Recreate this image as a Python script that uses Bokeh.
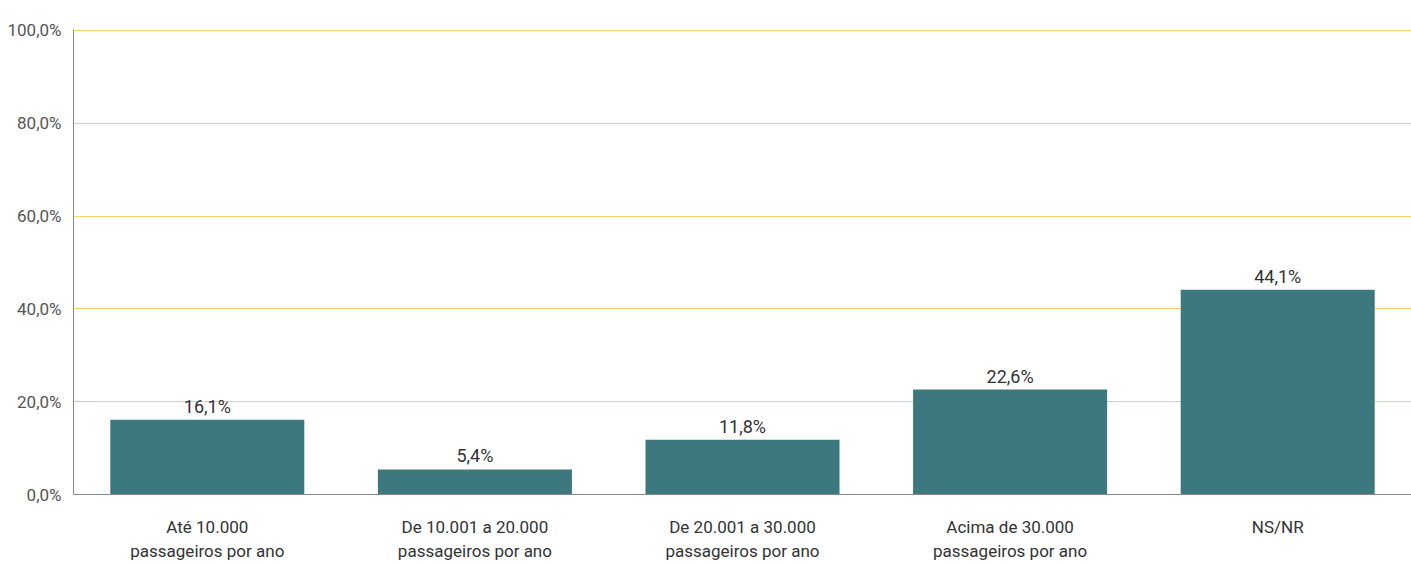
from bokeh.plotting import figure
from bokeh.models import ColumnDataSource, CustomJSTickFormatter, FixedTicker, Range1d, FactorRange
from bokeh.core.properties import value
from bokeh.embed import file_html
from bokeh.resources import INLINE

categories = ["Até 10.000\npassageiros por ano",
              "De 10.001 a 20.000\npassageiros por ano",
              "De 20.001 a 30.000\npassageiros por ano",
              "Acima de 30.000\npassageiros por ano",
              "NS/NR"]
values = [16.1, 5.4, 11.8, 22.6, 44.1]
value_labels = ["16,1%", "5,4%", "11,8%", "22,6%", "44,1%"]
y_ticks = [0, 20, 40, 60, 80, 100]

FONT = "Roboto"

src = ColumnDataSource(dict(cat=categories, val=values, lab=value_labels))

p = figure(x_range=FactorRange(*categories, range_padding=0), y_range=Range1d(0, 100.2),
           frame_width=1338, frame_height=465, output_backend="svg", toolbar_location=None,
           min_border_left=73, min_border_right=0, min_border_top=29, min_border_bottom=70)
p.outline_line_color = None
p.background_fill_color = "white"

p.vbar(x="cat", top="val", width=0.725, source=src, fill_color="#3C787D", line_color=None)
p.text(x="cat", y="val", text="lab", source=src, text_align="center", text_baseline="bottom",
       y_offset=-3, text_font=value(FONT), text_font_size="18px", text_color="#333333")

p.xgrid.grid_line_color = None
p.ygrid.grid_line_color = "#F8CD6E"
p.ygrid.grid_line_width = 1
p.ygrid.ticker = FixedTicker(ticks=[20, 40, 60, 80, 100])

p.yaxis.ticker = FixedTicker(ticks=y_ticks)
p.yaxis.formatter = CustomJSTickFormatter(code="return tick.toFixed(1).replace('.', ',') + '%';")
p.yaxis.major_tick_line_color = None
p.yaxis.minor_tick_line_color = None
p.yaxis.axis_line_color = "#888888"
p.yaxis.major_label_text_font = FONT
p.yaxis.major_label_text_font_size = "17px"
p.yaxis.major_label_text_color = "#555555"
p.yaxis.major_label_text_baseline = "alphabetic"
p.yaxis.major_label_standoff = 6

p.xaxis.major_tick_line_color = None
p.xaxis.minor_tick_line_color = None
p.xaxis.axis_line_color = "#888888"
p.xaxis.major_label_text_font = FONT
p.xaxis.major_label_text_font_size = "17px"
p.xaxis.major_label_text_color = "#333333"
p.xaxis.major_label_standoff = 16

open("out.html", "w").write(file_html(p, INLINE))
